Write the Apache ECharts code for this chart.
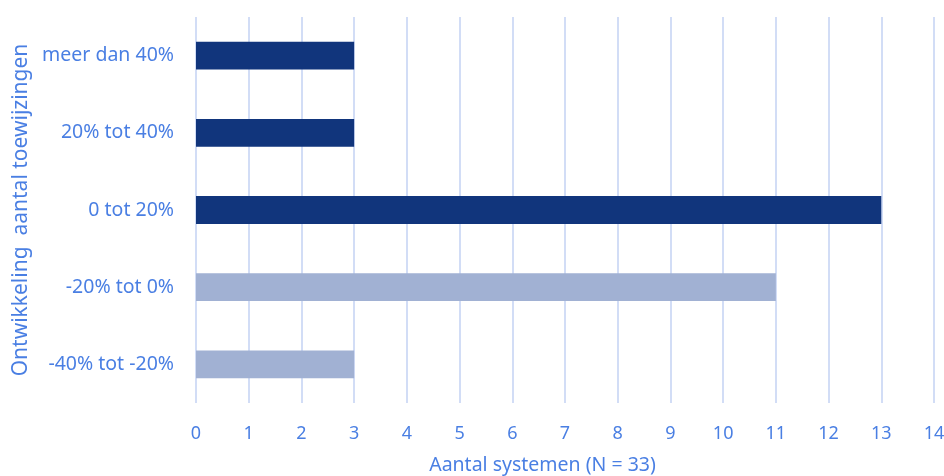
<!DOCTYPE html>
<html>
<head>
<meta charset="utf-8">
<script src="https://cdn.jsdelivr.net/npm/echarts@6/dist/echarts.min.js"></script>
<style>
  html, body { margin: 0; padding: 0; background: #ffffff; }
  #chart { width: 944px; height: 476px; }
</style>
</head>
<body>
<div id="chart"></div>
<script>
// Categories listed bottom to top
const categories = ['-40% tot -20%', '-20% tot 0%', '0 tot 20%', '20% tot 40%', 'meer dan 40%'];
const counts = [3, 11, 13, 3, 3];
const xTicks = { min: 0, max: 14, interval: 1 };

const DARK = '#11357c';
const LIGHT = '#a1b1d3';
const TEXT = '#4a7fe3';
const FONT = 'Noto Sans';

const chart = echarts.init(document.getElementById('chart'), null, { renderer: 'canvas' });

chart.setOption({
  animation: false,
  backgroundColor: '#ffffff',
  grid: { left: 196, right: 10, top: 17, bottom: 73, containLabel: false, outerBoundsMode: 'none' },
  xAxis: {
    type: 'value',
    min: xTicks.min,
    max: xTicks.max,
    interval: xTicks.interval,
    name: 'Aantal systemen (N = 33)',
    nameLocation: 'middle',
    nameGap: 52,
    nameTextStyle: { color: TEXT, fontSize: 19.5, fontFamily: FONT, padding: [0, 45, 0, 0] },
    axisLine: { show: false },
    axisTick: { show: false },
    axisLabel: { color: TEXT, fontSize: 18, fontFamily: FONT, margin: 22 },
    splitLine: { show: true, lineStyle: { color: '#d2ddf6', width: 2 } }
  },
  yAxis: {
    type: 'category',
    data: categories,
    name: 'Ontwikkeling  aantal toewijzingen',
    nameLocation: 'middle',
    nameGap: 162,
    nameRotate: 90,
    nameTextStyle: { color: TEXT, fontSize: 21, fontFamily: FONT },
    axisLine: { show: false },
    axisTick: { show: false },
    axisLabel: { color: TEXT, fontSize: 19.5, fontFamily: FONT, margin: 22 },
    splitLine: { show: false }
  },
  series: [{
    type: 'bar',
    data: counts.map((v, i) => ({
      value: v,
      itemStyle: { color: categories[i].startsWith('-') ? LIGHT : DARK }
    })),
    barWidth: '36%'
  }]
});
</script>
</body>
</html>
